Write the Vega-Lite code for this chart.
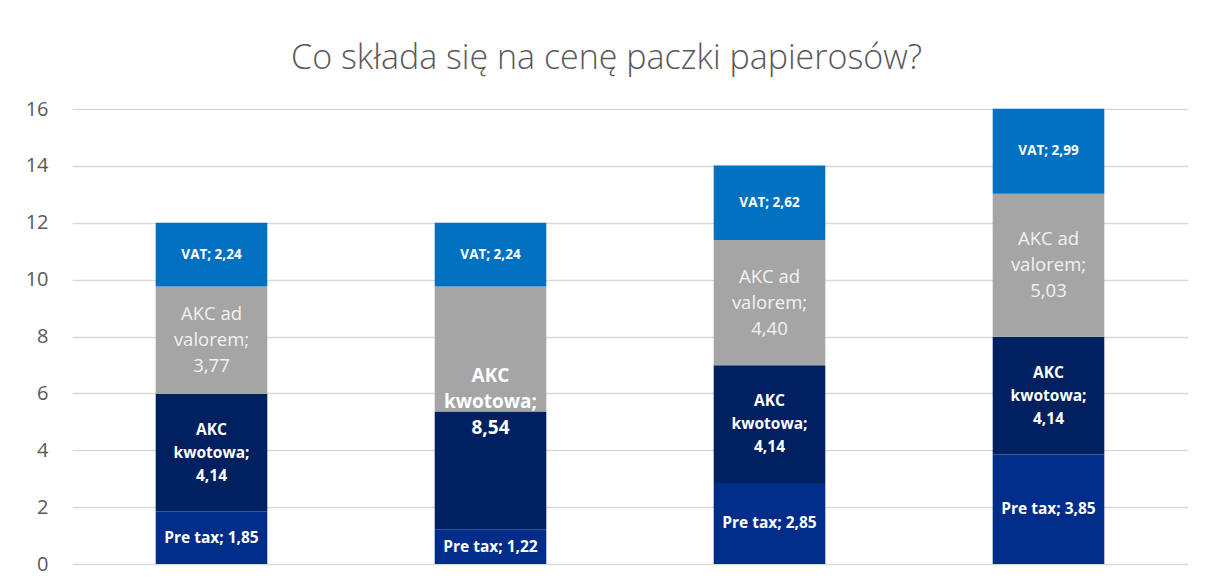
{
  "$schema": "https://vega.github.io/schema/vega-lite/v6.json",
  "autosize": {"type": "none"},
  "width": 1116,
  "height": 455,
  "padding": {"left": 72, "top": 109, "right": 18, "bottom": 24},
  "background": "white",
  "title": {
    "text": "Co składa się na cenę paczki papierosów?",
    "font": "Open Sans",
    "fontSize": 34,
    "fontWeight": 300,
    "color": "#595959",
    "anchor": "middle",
    "frame": "bounds",
    "offset": 23
  },
  "data": {
    "values": [
      {"bar": "1", "series": "Pre tax", "k": 1, "value": 1.85, "label": "Pre tax; 1,85"},
      {"bar": "1", "series": "AKC kwotowa", "k": 2, "value": 4.14, "label": "AKC\nkwotowa;\n4,14"},
      {"bar": "1", "series": "AKC ad valorem", "k": 3, "value": 3.77, "label": "AKC ad\nvalorem;\n3,77"},
      {"bar": "1", "series": "VAT", "k": 4, "value": 2.24, "label": "VAT; 2,24"},
      {"bar": "2", "series": "Pre tax", "k": 1, "value": 1.22, "label": "Pre tax; 1,22"},
      {"bar": "2", "series": "AKC kwotowa", "k": 2, "value": 4.14, "label": "AKC\nkwotowa;\n8,54"},
      {"bar": "2", "series": "AKC ad valorem", "k": 3, "value": 4.40, "label": ""},
      {"bar": "2", "series": "VAT", "k": 4, "value": 2.24, "label": "VAT; 2,24"},
      {"bar": "3", "series": "Pre tax", "k": 1, "value": 2.85, "label": "Pre tax; 2,85"},
      {"bar": "3", "series": "AKC kwotowa", "k": 2, "value": 4.14, "label": "AKC\nkwotowa;\n4,14"},
      {"bar": "3", "series": "AKC ad valorem", "k": 3, "value": 4.40, "label": "AKC ad\nvalorem;\n4,40"},
      {"bar": "3", "series": "VAT", "k": 4, "value": 2.62, "label": "VAT; 2,62"},
      {"bar": "4", "series": "Pre tax", "k": 1, "value": 3.85, "label": "Pre tax; 3,85"},
      {"bar": "4", "series": "AKC kwotowa", "k": 2, "value": 4.14, "label": "AKC\nkwotowa;\n4,14"},
      {"bar": "4", "series": "AKC ad valorem", "k": 3, "value": 5.03, "label": "AKC ad\nvalorem;\n5,03"},
      {"bar": "4", "series": "VAT", "k": 4, "value": 2.99, "label": "VAT; 2,99"}
    ]
  },
  "transform": [
    {"stack": "value", "groupby": ["bar"], "sort": [{"field": "k", "order": "ascending"}], "as": ["y0", "y1"]},
    {"calculate": "(datum.y0 + datum.y1) / 2", "as": "mid"}
  ],
  "encoding": {
    "x": {
      "field": "bar",
      "type": "nominal",
      "axis": null,
      "scale": {"paddingInner": 0.6, "paddingOuter": 0.3}
    }
  },
  "layer": [
    {
      "mark": {"type": "bar", "stroke": null},
      "encoding": {
        "y": {
          "field": "y0",
          "type": "quantitative",
          "scale": {"domain": [0, 16], "nice": false},
          "axis": {
            "values": [0, 2, 4, 6, 8, 10, 12, 14, 16],
            "title": null,
            "domain": false,
            "ticks": false,
            "grid": true,
            "gridColor": "#D9D9D9",
            "gridWidth": 1.3,
            "labelFont": "Open Sans",
            "labelFontSize": 20,
            "labelColor": "#595959",
            "labelPadding": 24
          }
        },
        "y2": {"field": "y1"},
        "color": {
          "field": "series",
          "type": "nominal",
          "legend": null,
          "scale": {
            "domain": ["Pre tax", "AKC kwotowa", "AKC ad valorem", "VAT"],
            "range": ["#002D8A", "#002060", "#A5A5A5", "#0070C0"]
          }
        }
      }
    },
    {
      "transform": [{"filter": "datum.series == 'Pre tax'"}],
      "mark": {"type": "text", "font": "Open Sans", "fontWeight": "bold", "fontSize": 15.5, "color": "white", "baseline": "middle", "align": "center"},
      "encoding": {
        "y": {"field": "mid", "type": "quantitative"},
        "text": {"field": "label"}
      }
    },
    {
      "transform": [{"filter": "datum.series == 'AKC kwotowa' && datum.bar != '2'"}],
      "mark": {"type": "text", "font": "Open Sans", "fontWeight": "bold", "fontSize": 15.5, "color": "white", "lineBreak": "\n", "lineHeight": 23, "baseline": "middle", "align": "center", "dy": -23},
      "encoding": {
        "y": {"field": "mid", "type": "quantitative"},
        "text": {"field": "label"}
      }
    },
    {
      "transform": [{"filter": "datum.series == 'VAT'"}],
      "mark": {"type": "text", "font": "Open Sans", "fontWeight": "bold", "fontSize": 13.5, "color": "white", "baseline": "middle", "align": "center"},
      "encoding": {
        "y": {"field": "mid", "type": "quantitative"},
        "text": {"field": "label"}
      }
    },
    {
      "transform": [{"filter": "datum.series == 'AKC ad valorem'"}],
      "mark": {"type": "text", "font": "Open Sans", "fontWeight": "normal", "fontSize": 18.5, "color": "#F2F2F2", "lineBreak": "\n", "lineHeight": 26, "baseline": "middle", "align": "center", "dy": -26},
      "encoding": {
        "y": {"field": "mid", "type": "quantitative"},
        "text": {"field": "label"}
      }
    },
    {
      "transform": [
        {"filter": "datum.bar == '2' && (datum.series == 'AKC kwotowa' || datum.series == 'AKC ad valorem')"},
        {"joinaggregate": [{"op": "min", "field": "y0", "as": "lo"}, {"op": "max", "field": "y1", "as": "hi"}], "groupby": ["bar"]},
        {"filter": "datum.series == 'AKC kwotowa'"},
        {"calculate": "(datum.lo + datum.hi) / 2", "as": "mid2"}
      ],
      "mark": {"type": "text", "font": "Open Sans", "fontWeight": "bold", "fontSize": 19, "color": "white", "lineBreak": "\n", "lineHeight": 26, "baseline": "middle", "align": "center", "dy": -32},
      "encoding": {
        "y": {"field": "mid2", "type": "quantitative"},
        "text": {"field": "label"}
      }
    }
  ],
  "config": {"view": {"stroke": null}}
}
